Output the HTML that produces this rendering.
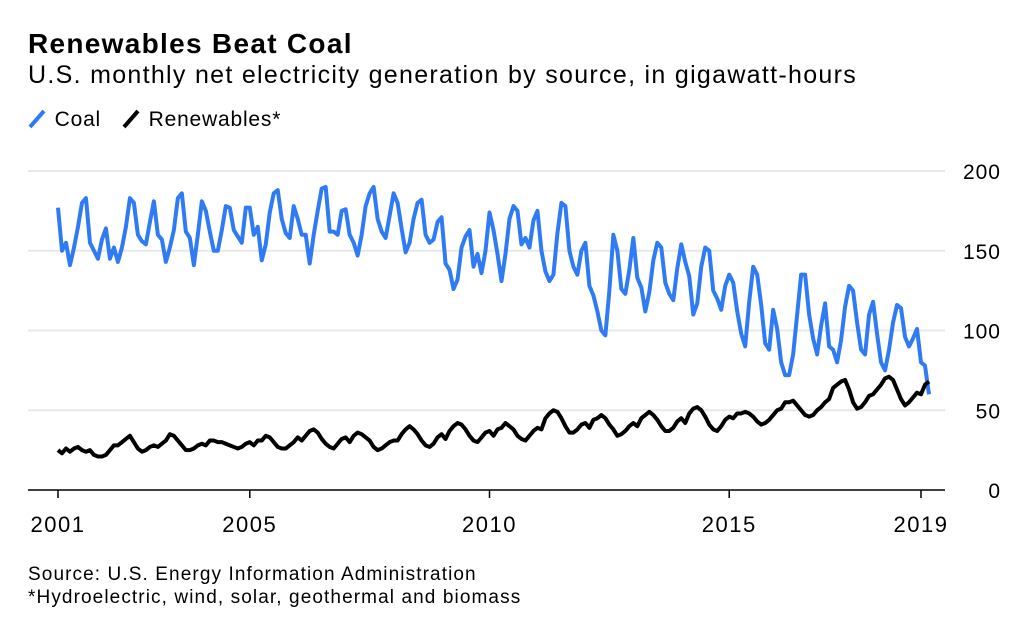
<!DOCTYPE html>
<html><head><meta charset="utf-8"><style>
body{margin:0;background:#fff;font-family:"Liberation Sans",sans-serif;}
#wrap{position:relative;width:1036px;height:640px;overflow:hidden}
.t{position:absolute;white-space:nowrap;color:#000}
</style></head><body><div id="wrap">
<div class="t" style="left:28px;top:28px;font-size:28px;font-weight:bold;letter-spacing:1.3px">Renewables Beat Coal</div>
<div class="t" style="left:28px;top:61px;font-size:25px;letter-spacing:1.3px">U.S. monthly net electricity generation by source, in gigawatt-hours</div>
<div class="t" style="left:28px;top:108px;font-size:21px;letter-spacing:0.8px"><svg width="20" height="20" style="vertical-align:-3px"><line x1="2" y1="18" x2="16" y2="2" stroke="#2f7bf5" stroke-width="4"/></svg> Coal</div>
<div class="t" style="left:122px;top:108px;font-size:21px;letter-spacing:0.8px"><svg width="20" height="20" style="vertical-align:-3px"><line x1="2" y1="18" x2="16" y2="2" stroke="#000" stroke-width="4"/></svg> Renewables*</div>
<svg id="c" width="1036" height="640" style="position:absolute;left:0;top:0"></svg>
<div class="t" style="left:28px;top:564px;font-size:19px;letter-spacing:1.1px">Source: U.S. Energy Information Administration</div>
<div class="t" style="left:28px;top:587px;font-size:19px;letter-spacing:1.1px">*Hydroelectric, wind, solar, geothermal and biomass</div>
</div>
<script>
const yTicks=[0,50,100,150,200];
const xTickYears=[2001,2005,2010,2015,2019];
const coal=[
177,150,155,141,152,165,180,183,155,150,145,157,
164,145,152,143,152,165,183,180,160,156,154,168,
181,160,157,143,152,163,183,186,162,158,141,160,
181,175,162,150,150,163,178,177,163,159,155,177,
177,160,165,144,154,174,186,188,170,161,158,178,
170,160,160,142,160,175,189,190,162,162,160,175,
176,160,155,147,160,178,186,190,170,162,158,172,
186,180,164,149,155,170,180,182,160,155,157,168,
171,142,138,126,132,152,159,163,140,148,136,150,
174,163,148,131,148,170,178,175,154,158,152,169,
175,150,137,131,135,161,180,178,150,140,135,150,
155,128,122,112,100,97,125,160,150,126,123,138,
158,133,127,112,124,144,155,152,130,123,119,139,
154,143,134,110,117,140,152,150,125,120,113,128,
135,130,112,98,90,118,140,135,116,92,88,113,
101,80,72,72,85,110,135,135,110,95,85,103,
117,90,88,80,94,115,128,125,105,88,85,110,
118,98,80,75,88,105,116,114,96,90,95,101,
80,78,60];
const renew=[
25,23,26,24,26,27,25,24,25,22,21,21,
22,25,28,28,30,32,34,30,26,24,25,27,
28,27,29,31,35,34,31,28,25,25,26,28,
29,28,31,31,30,30,29,28,27,26,27,29,
30,28,31,31,34,33,30,27,26,26,28,30,
33,31,34,37,38,36,32,29,27,26,29,32,
33,30,34,36,35,33,31,27,25,26,28,30,
31,31,35,38,40,38,35,31,28,27,29,33,
35,32,37,40,42,41,38,34,31,30,33,36,
37,34,38,39,42,40,38,34,32,31,34,37,
39,38,45,48,50,49,45,40,36,36,38,41,
42,39,44,45,47,45,41,38,34,35,37,40,
42,40,45,47,49,47,44,40,37,37,39,43,
45,42,48,51,52,50,46,41,38,37,40,44,
46,45,48,48,49,48,46,43,41,42,44,47,
50,51,55,55,56,53,50,47,46,47,50,52,
55,57,64,66,68,69,63,55,51,52,55,59,
60,63,66,70,71,69,63,57,53,55,58,61,
60,66,68];
const svg=document.getElementById('c');const NS='http://www.w3.org/2000/svg';
const x0=58,x1=921,y0=490,y1=171;
const xs=i=>x0+(x1-x0)*i/216;
const xy=yr=>x0+(x1-x0)*(yr-2001)/18;
const ys=v=>y0-(y0-y1)*v/200;
function mk(t,a){const e=document.createElementNS(NS,t);for(const k in a)e.setAttribute(k,a[k]);svg.appendChild(e);return e;}
yTicks.forEach(v=>{
 if(v>0){const g=mk('line',{x1:28,x2:945,y1:ys(v),y2:ys(v),stroke:'#e8e8e8','stroke-width':2});
 
 }
 const t=mk('text',{x:1001,y:ys(v)+8,'text-anchor':'end','font-size':21,'letter-spacing':1,'font-family':'Liberation Sans, sans-serif'});
 t.textContent=v;
 
 
});
const ax=mk('line',{x1:28,x2:945,y1:y0,y2:y0,stroke:'#000','stroke-width':1.5});


xTickYears.forEach(yr=>{
 const tk=mk('line',{x1:xy(yr),x2:xy(yr),y1:y0,y2:y0+8,stroke:'#000','stroke-width':1.5});
 
 
 const t=mk('text',{x:xy(yr),y:y0+42,'text-anchor':'middle','font-size':22,'letter-spacing':1.5,'font-family':'Liberation Sans, sans-serif'});
 t.textContent=yr;
 
 
});
function line(d,col,name){const p=mk('polyline',{points:d.map((v,i)=>xs(i)+','+ys(v)).join(' '),fill:'none',stroke:col,'stroke-width':4,'stroke-linejoin':'round'});
 
 }
line(coal,'#2f7bf5','coal-line');
line(renew,'#000','renewables-line');
</script></body></html>
